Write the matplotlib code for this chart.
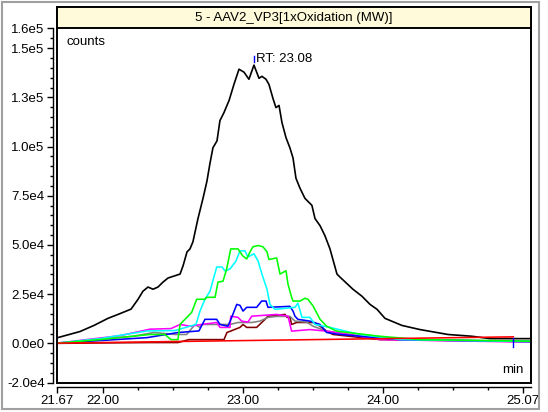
import matplotlib
matplotlib.use("Agg")
import matplotlib.pyplot as plt
from matplotlib.patches import Rectangle
from matplotlib.ticker import FixedLocator, MultipleLocator, NullFormatter

plt.rcParams['font.family'] = ['Liberation Sans', 'DejaVu Sans']

title = "5 - AAV2_VP3[1xOxidation (MW)]"
rt_label = "RT: 23.08"
rt_time = 23.08
end_mark_time = 24.93

x_ticks = [21.67, 22.00, 23.00, 24.00, 25.00]
x_tick_labels = ["21.67", "22.00", "23.00", "24.00", "25.07"]
y_ticks = [-2.0e4, 0.0, 2.5e4, 5.0e4, 7.5e4, 1.0e5, 1.25e5, 1.5e5, 1.6e5]
y_tick_labels = ["-2.0e4", "0.0e0", "2.5e4", "5.0e4", "7.5e4", "1.0e5", "1.3e5", "1.5e5", "1.6e5"]

black_t = [21.67, 21.834, 21.934, 22.034, 22.113, 22.199, 22.249, 22.284, 22.32, 22.356, 22.391, 22.427,
           22.463, 22.506, 22.549, 22.57, 22.599, 22.62, 22.641, 22.677, 22.713, 22.741, 22.763, 22.784,
           22.813, 22.834, 22.863, 22.884, 22.899, 22.934, 22.97, 23.006, 23.041, 23.077, 23.113, 23.134,
           23.163, 23.184, 23.213, 23.234, 23.256, 23.277, 23.306, 23.334, 23.356, 23.377, 23.406, 23.441,
           23.491, 23.513, 23.549, 23.584, 23.62, 23.67, 23.691, 23.784, 23.849, 23.906, 23.956, 24.013,
           24.134, 24.263, 24.463, 24.634, 24.763, 25.056]
black_v = [2.8e3, 6.0e3, 9.1e3, 12.7e3, 14.9e3, 17.4e3, 22.4e3, 26.5e3, 28.6e3, 27.5e3, 28.6e3, 31.1e3,
           33.2e3, 34.2e3, 35.2e3, 39.3e3, 46.5e3, 48.0e3, 51.6e3, 63.4e3, 73.7e3, 82.4e3, 91.6e3, 99.4e3,
           102.9e3, 113.2e3, 117.3e3, 120.9e3, 123.4e3, 131.6e3, 139.3e3, 137.8e3, 134.2e3, 141.4e3, 134.7e3, 135.7e3,
           134.2e3, 131.6e3, 124.4e3, 119.8e3, 120.9e3, 112.2e3, 104.5e3, 99.3e3, 94.2e3, 83.9e3, 78.8e3, 73.7e3,
           70.1e3, 63.4e3, 59.8e3, 54.7e3, 48.0e3, 35.2e3, 33.7e3, 27.5e3, 23.9e3, 19.8e3, 17.3e3, 12.7e3,
           9.1e3, 7.0e3, 4.5e3, 3.6e3, 2.4e3, 2.4e3]

green_t = [21.67, 21.977, 22.334, 22.441, 22.484, 22.534, 22.549, 22.584, 22.632, 22.668, 22.727, 22.739,
           22.799, 22.82, 22.856, 22.882, 22.911, 22.963, 22.996, 23.025, 23.049, 23.07, 23.106, 23.141,
           23.17, 23.184, 23.239, 23.263, 23.306, 23.32, 23.346, 23.356, 23.406, 23.441, 23.463, 23.499,
           23.549, 23.596, 23.668, 23.977, 24.263, 25.056]
green_v = [0.1e3, 1.9e3, 4.5e3, 4.5e3, 1.9e3, 1.9e3, 9.6e3, 12.2e3, 15.7e3, 22.4e3, 22.4e3, 23.4e3,
           23.4e3, 31.1e3, 31.6e3, 37.8e3, 48.0e3, 48.0e3, 44.5e3, 42.9e3, 46.5e3, 49.1e3, 49.7e3, 49.1e3,
           46.5e3, 42.6e3, 43.4e3, 35.2e3, 36.9e3, 30.1e3, 23.4e3, 21.5e3, 21.5e3, 22.9e3, 22.4e3, 19.0e3,
           12.2e3, 8.7e3, 6.2e3, 3.6e3, 1.9e3, 1.1e3]

cyan_t = [21.67, 21.977, 22.313, 22.513, 22.663, 22.691, 22.727, 22.763, 22.791, 22.811, 22.849, 22.87,
          22.906, 22.949, 22.977, 23.013, 23.034, 23.077, 23.106, 23.134, 23.17, 23.191, 23.227, 23.37,
          23.391, 23.42, 23.477, 23.513, 23.62, 23.834, 24.12, 25.056]
cyan_v = [0.1e3, 2.4e3, 6.3e3, 6.5e3, 9.6e3, 16.3e3, 22.4e3, 26.5e3, 33.7e3, 38.8e3, 38.8e3, 36.8e3,
          37.8e3, 41.9e3, 47.0e3, 47.0e3, 43.9e3, 45.5e3, 41.9e3, 35.2e3, 27.5e3, 19.8e3, 17.3e3, 18.3e3,
          20.4e3, 13.2e3, 13.2e3, 9.6e3, 8.1e3, 4.5e3, 1.9e3, 0.9e3]

blue_t = [21.67, 21.977, 22.313, 22.534, 22.684, 22.727, 22.811, 22.834, 22.891, 22.918, 22.954, 22.977,
          22.999, 23.025, 23.096, 23.132, 23.163, 23.177, 23.334, 23.356, 23.37, 23.391, 23.477, 23.549,
          23.596, 23.691, 24.12, 25.056]
blue_v = [0.1e3, 1.4e3, 2.9e3, 5.5e3, 6.3e3, 12.2e3, 12.2e3, 9.6e3, 8.7e3, 13.2e3, 19.8e3, 19.3e3,
          16.4e3, 18.3e3, 18.3e3, 21.5e3, 21.5e3, 18.3e3, 18.8e3, 16.4e3, 13.8e3, 12.2e3, 11.3e3, 9.6e3,
          5.5e3, 4.5e3, 1.9e3, 0.9e3]

magenta_t = [21.67, 22.12, 22.334, 22.484, 22.549, 22.62, 22.704, 22.811, 22.834, 22.906, 22.911, 22.963,
             22.989, 23.034, 23.061, 23.239, 23.32, 23.346, 23.477, 23.596, 23.668, 23.977, 25.056]
magenta_v = [0.1e3, 3.9e3, 7.2e3, 7.5e3, 9.6e3, 8.7e3, 9.6e3, 10.6e3, 8.1e3, 8.1e3, 13.8e3, 13.2e3,
             11.3e3, 10.8e3, 13.8e3, 14.7e3, 13.8e3, 6.2e3, 7.0e3, 6.2e3, 5.5e3, 1.9e3, 0.6e3]

gray_t = [21.67, 22.213, 22.363, 22.513, 22.596, 22.656, 22.691, 22.704, 22.784, 22.906, 22.963, 23.013,
          23.061, 23.12, 23.177, 23.239, 23.334, 23.37, 23.454, 23.499, 23.596, 23.977, 25.056]
gray_v = [0.1e3, 3.6e3, 5.5e3, 4.5e3, 4.5e3, 9.6e3, 8.1e3, 9.6e3, 9.6e3, 9.6e3, 10.6e3, 10.6e3,
          10.6e3, 11.3e3, 13.2e3, 13.7e3, 13.7e3, 11.3e3, 10.8e3, 8.7e3, 6.2e3, 2.4e3, 0.9e3]

brown_t = [21.67, 22.334, 22.534, 22.613, 22.863, 22.884, 22.977, 22.999, 23.025, 23.096, 23.156, 23.177,
           23.299, 23.313, 23.334, 23.346, 23.382, 23.499, 23.549, 23.596, 23.641, 23.977, 25.056]
brown_v = [0.0, 0.4e3, 0.4e3, 1.9e3, 1.9e3, 5.5e3, 8.1e3, 9.6e3, 8.1e3, 8.1e3, 12.2e3, 13.8e3,
           14.7e3, 13.2e3, 13.2e3, 9.6e3, 10.6e3, 10.6e3, 8.7e3, 6.2e3, 4.5e3, 1.9e3, 0.9e3]

red_t = [21.67, 24.93]
red_v = [0.1e3, 3.3e3]

W, H = 548, 412
fig = plt.figure(figsize=(W / 100, H / 100), dpi=100)
fig.patch.set_facecolor("white")

def fx(px):
    return px / W

def fy(py):
    return 1 - py / H

ax = fig.add_axes([fx(57), fy(382.7), fx(531) - fx(57), fy(28.5) - fy(382.7)])
ax.set_facecolor("none")
ax.set_xlim(21.67, 25.056)
ax.set_ylim(-2.0e4, 1.6e5)

lw = 1.15
ax.plot(black_t, black_v, color="black", lw=1.2, zorder=3)
ax.plot(brown_t, brown_v, color="#800000", lw=lw, zorder=4)
ax.plot(gray_t, gray_v, color="#808080", lw=lw, zorder=4)
ax.plot(magenta_t, magenta_v, color="#FF00FF", lw=lw, zorder=4)
ax.plot(blue_t, blue_v, color="#0000FF", lw=lw, zorder=4)
ax.plot(cyan_t, cyan_v, color="#00FFFF", lw=lw, zorder=4)
ax.plot(green_t, green_v, color="#00FF00", lw=lw, zorder=5)
ax.plot(red_t, red_v, color="#FF0000", lw=lw, zorder=5)

# peak marker and end marker
ax.plot([rt_time, rt_time], [1.43e5, 1.46e5], color="#0000FF", lw=1.0, zorder=6)
ax.plot([end_mark_time, end_mark_time], [-1.7e3, 2.9e3], color="#0000FF", lw=1.0, zorder=6)
ax.text(rt_time + 0.012, 1.445e5, rt_label, fontsize=9.5, ha="left", va="center", zorder=7)

ax.text(0.019, 0.962, "counts", transform=ax.transAxes, fontsize=9.5, ha="left", va="center")
ax.text(0.985, 0.036, "min", transform=ax.transAxes, fontsize=9.5, ha="right", va="center")

# axes styling
for s in ["top", "right"]:
    ax.spines[s].set_visible(False)
ax.spines["left"].set_position(("outward", 3))
ax.spines["bottom"].set_position(("outward", 3))
ax.spines["left"].set_linewidth(1.0)
ax.spines["bottom"].set_linewidth(1.0)

ax.xaxis.set_major_locator(FixedLocator(x_ticks))
ax.set_xticklabels(x_tick_labels)
ax.xaxis.set_minor_locator(FixedLocator([22.25 + 0.25 * i for i in range(11)]))
ax.yaxis.set_major_locator(FixedLocator(y_ticks))
ax.set_yticklabels(y_tick_labels)
ax.yaxis.set_minor_locator(MultipleLocator(5000))
ax.yaxis.set_minor_formatter(NullFormatter())
ax.tick_params(axis="both", which="major", direction="out", length=4, width=1.0, labelsize=9.5, pad=2)
ax.tick_params(axis="both", which="minor", direction="out", length=2.5, width=1.0)

# box around plotting region (including title bar)
box = Rectangle((fx(57), fy(383)), fx(531) - fx(57), fy(7) - fy(383), transform=fig.transFigure,
                facecolor="none", edgecolor="black", lw=1.4, zorder=10)
fig.patches.append(box)
bar = Rectangle((fx(57), fy(27.5)), fx(531) - fx(57), fy(7) - fy(27.5), transform=fig.transFigure,
                facecolor="#FFFBDA", edgecolor="black", lw=1.4, zorder=10)
fig.patches.append(bar)
fig.text(fx(294), fy(17.5), title, fontsize=9.5, ha="center", va="center", zorder=20)

# outer frame
outer = Rectangle((fx(2), fy(409)), fx(539) - fx(2), fy(2) - fy(409), transform=fig.transFigure,
                  facecolor="none", edgecolor="#A0A0A0", lw=1.5, zorder=0)
fig.patches.append(outer)

fig.savefig("out.png", dpi=100)
